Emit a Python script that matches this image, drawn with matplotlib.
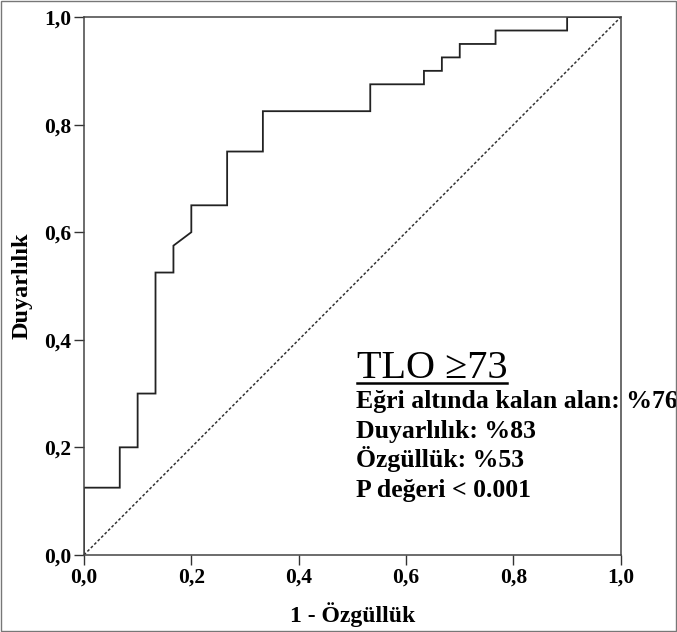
import numpy as np
import matplotlib
matplotlib.use("Agg")
import matplotlib.pyplot as plt
from matplotlib.lines import Line2D

# ROC curve vertices (1 - specificity, sensitivity)
fpr = [0.0, 0.0, 0.0667, 0.0667, 0.1, 0.1, 0.1333, 0.1333, 0.1667, 0.1667, 0.2, 0.2,
       0.2667, 0.2667, 0.3333, 0.3333, 0.5333, 0.5333, 0.6333, 0.6333, 0.6667, 0.6667,
       0.7, 0.7, 0.7667, 0.7667, 0.9, 0.9, 1.0]
tpr = [0.0, 0.125, 0.125, 0.2, 0.2, 0.3, 0.3, 0.525, 0.525, 0.575, 0.6, 0.65,
       0.65, 0.75, 0.75, 0.825, 0.825, 0.875, 0.875, 0.9, 0.9, 0.925,
       0.925, 0.95, 0.95, 0.975, 0.975, 1.0, 1.0]
ticks = [0.0, 0.2, 0.4, 0.6, 0.8, 1.0]
tick_labels = ["0,0", "0,2", "0,4", "0,6", "0,8", "1,0"]
title_txt = "TLO \u226573"
info_lines = ["E\u011fri alt\u0131nda kalan alan: %76",
              "Duyarl\u0131l\u0131k: %83",
              "\u00d6zg\u00fcll\u00fck: %53",
              "P de\u011feri < 0.001"]

SERIF = ["Liberation Serif", "DejaVu Serif"]

fig = plt.figure(figsize=(6.77, 6.32), dpi=100)
ax = fig.add_axes([0.124, 0.122, 0.793, 0.851])

ax.plot(fpr, tpr, color="#222222", lw=1.3, solid_joinstyle="miter")
ax.plot([0, 1], [0, 1], color="#333333", lw=1.1, linestyle=(0, (1.8, 1.4)))

ax.set_xlim(0, 1)
ax.set_ylim(0, 1)
ax.set_xticks(ticks)
ax.set_yticks(ticks)
ax.set_xticklabels(tick_labels, family=SERIF, fontweight="bold", fontsize=15.5)
ax.set_yticklabels(tick_labels, family=SERIF, fontweight="bold", fontsize=15.5)
ax.tick_params(direction="out", length=7.5, width=1, color="#333333", pad=1.5)
for s in ax.spines.values():
    s.set_color("#444444")
    s.set_linewidth(1.1)

ax.set_xlabel("1 - \u00d6zg\u00fcll\u00fck", family=SERIF, fontweight="bold", fontsize=17)
ax.set_ylabel("Duyarl\u0131l\u0131k", family=SERIF, fontweight="bold", fontsize=17.5)
ax.xaxis.set_label_coords(0.5, -0.087)
ax.yaxis.set_label_coords(-0.095, 0.5)

t = ax.text(0.508, 0.329, title_txt, family=SERIF, fontsize=29, va="baseline", ha="left")
for i, line in enumerate(info_lines):
    ax.text(0.506, 0.273 - i * 0.055, line, family=SERIF, fontweight="bold",
            fontsize=18.5, va="baseline", ha="left")

# underline under the title text
fig.canvas.draw()
bb = t.get_window_extent().transformed(fig.transFigure.inverted())
yl = 1 - 383 / 632
fig.add_artist(Line2D([bb.x0, bb.x1], [yl, yl], transform=fig.transFigure,
                      color="black", lw=1.8))

# outer border
fig.add_artist(plt.Rectangle((0.002, 0.002), 0.996, 0.996, transform=fig.transFigure,
                             fill=False, edgecolor="#777777", lw=1))

fig.savefig("out.png", dpi=100)
